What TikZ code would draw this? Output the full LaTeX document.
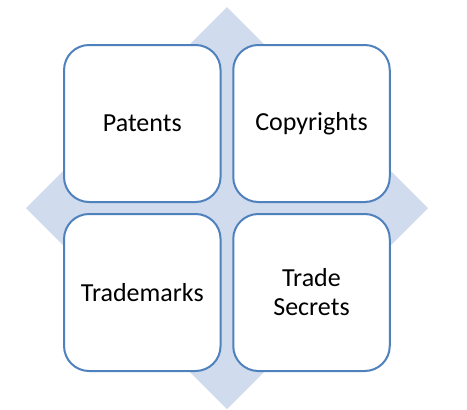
\documentclass[tikz,border=0pt]{standalone}
\usepackage{fontspec}
\setmainfont{Carlito}
\usetikzlibrary{positioning}
\definecolor{ipline}{RGB}{79,129,189}
\definecolor{ipfill}{RGB}{208,219,238}
\begin{document}
\begin{tikzpicture}[x=1pt,y=-1pt,
  ipbox/.style={draw=ipline,line width=2pt,fill=white,rounded corners=25pt,
    minimum width=156.5pt,minimum height=157pt,inner sep=0pt,align=center,
    font=\fontsize{26}{29}\selectfont}]
\useasboundingbox (0,0) rectangle (467,410);
\fill[ipfill] (227,7) -- (428,208) -- (227,409) -- (26,208) -- cycle;
\node[ipbox] (patents) at (142.3,123.5) {Patents};
\node[ipbox] (copyrights) at (311.5,123.5) {Copyrights};
\node[ipbox] (trademarks) at (142.3,292.5) {Trademarks};
\node[ipbox] (secrets) at (311.5,292.5) {Trade\\Secrets};
\end{tikzpicture}
\end{document}
